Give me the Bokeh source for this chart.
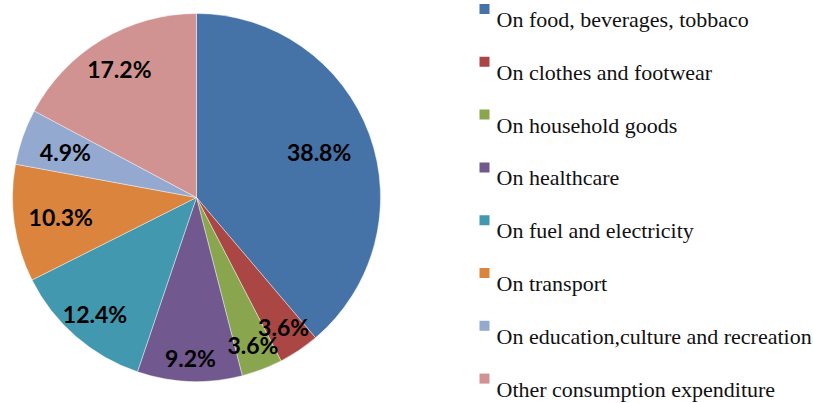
import math
from bokeh.plotting import figure
from bokeh.models import Range1d, ColumnDataSource
from bokeh.core.properties import value
from bokeh.embed import file_html
from bokeh.resources import INLINE

# ---- data ----
categories = [
    "On food, beverages, tobbaco",
    "On clothes and footwear",
    "On household goods",
    "On healthcare",
    "On fuel and electricity",
    "On transport",
    "On education,culture and recreation",
    "Other consumption expenditure",
]
shares = [38.8, 3.6, 3.6, 9.2, 12.4, 10.3, 4.9, 17.2]
colors = ["#4572A7", "#AA4643", "#89A54E", "#71588F",
          "#4198AF", "#DB843D", "#93A9CF", "#D19392"]

# ---- layout / style ----
W, H = 813, 403
cx, cy, R = 196, 206, 184          # pie centre (data coords, y up) and radius
label_rf = [0.71, 0.85, 0.86, 0.875, 0.84, 0.745, 0.755, 0.815]  # label radius fractions
leg_x, leg_top, leg_step = 484, 394.5, 52.8

p = figure(width=W, height=H, output_backend="svg", toolbar_location=None,
           x_range=Range1d(0, W), y_range=Range1d(0, H),
           x_axis_location=None, y_axis_location=None, min_border=0)
p.grid.visible = False
p.outline_line_color = None
p.background_fill_color = "white"

total = sum(shares)
starts, ends, lx, ly, txt = [], [], [], [], []
cum = 0.0
for i, v in enumerate(shares):
    a0 = math.pi / 2 - 2 * math.pi * cum / total
    cum += v
    a1 = math.pi / 2 - 2 * math.pi * cum / total
    starts.append(a1)
    ends.append(a0)
    mid = (a0 + a1) / 2
    r = R * label_rf[i]
    lx.append(cx + r * math.cos(mid))
    ly.append(cy + r * math.sin(mid))
    txt.append(f"{v:.1f}%")

src = ColumnDataSource(dict(start=starts, end=ends, color=colors,
                            lx=lx, ly=ly, txt=txt))
p.wedge(x=cx, y=cy, radius=R, start_angle="start", end_angle="end",
        fill_color="color", line_color="white", line_width=0.6, line_alpha=0.7,
        source=src)
p.text(x="lx", y="ly", text="txt", source=src, text_align="center",
       text_baseline="middle", text_font=value("Lato"), text_font_style="bold",
       text_font_size="23px", text_color="#000000")

# legend
sq_y = [leg_top - leg_step * i for i in range(len(categories))]
tx_y = [y - 10.5 for y in sq_y]
lsrc = ColumnDataSource(dict(sx=[leg_x] * len(categories), sy=sq_y, ty=tx_y,
                             tx=[leg_x + 12] * len(categories),
                             name=categories, color=colors))
p.scatter(x="sx", y="sy", marker="square", size=10, fill_color="color",
          line_color=None, source=lsrc)
p.text(x="tx", y="ty", text="name", source=lsrc, text_align="left",
       text_baseline="alphabetic", text_font=value("Liberation Serif"),
       text_font_size="22px", text_color="#111111")

open("out.html", "w").write(file_html(p, INLINE))
